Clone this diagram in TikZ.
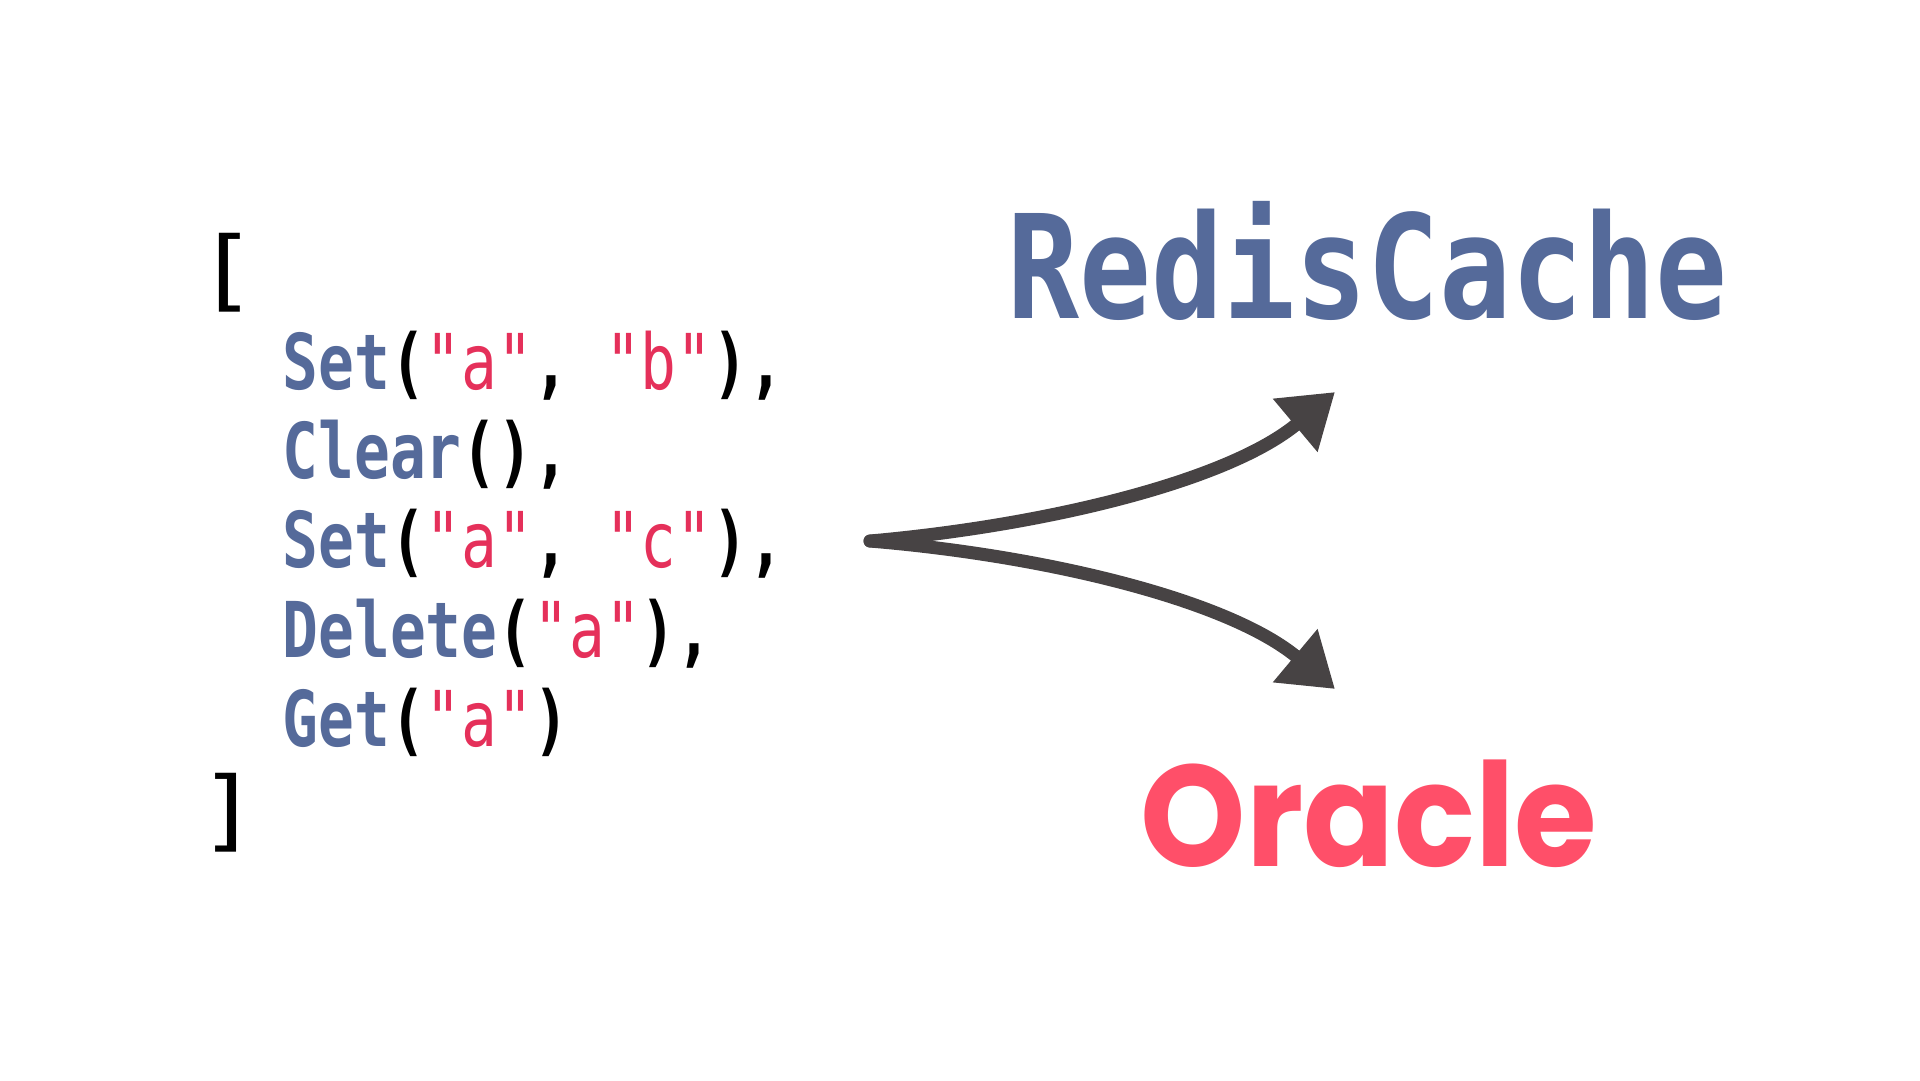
\documentclass[tikz,border=0pt]{standalone}
\usepackage{fontspec}
\usetikzlibrary{arrows.meta}

\newfontfamily\codefont[FakeStretch=0.773]{DejaVu Sans Mono}
\newfontfamily\titlefont[FakeStretch=0.83]{DejaVu Sans Mono}
\newfontfamily\oraclefont[FakeStretch=0.93]{Poppins}

\definecolor{fncol}{HTML}{556A9A}
\definecolor{strcol}{HTML}{E5305A}
\definecolor{oraclecol}{HTML}{FF4F69}
\definecolor{chalk}{HTML}{474344}

\newcommand{\fname}[1]{\textcolor{fncol}{#1}}
\newcommand{\sval}[1]{\textcolor{strcol}{\mdseries #1}}
\newcommand{\tallbr}[1]{\scalebox{1.7}[1.15]{\mdseries #1}}

\tikzset{
  codeline/.style={anchor=base west, inner sep=0pt, font=\codefont\bfseries\fontsize{21.9}{26}\selectfont},
  bracket/.style={codeline, anchor=base},
  chalkarrow/.style={draw=chalk, line width=1.3mm, line cap=round, -{Triangle[length=5.2mm, width=6.6mm]}}
}

\begin{document}
\begin{tikzpicture}[x=0.1mm, y=-0.1mm]
  \useasboundingbox (0,0) rectangle (1920,1080);

  % Liste der Befehle
  \node[bracket] (open) at (227,300) {\tallbr{[}};
  \node[codeline] (cmdA) at (282,389) {\fname{Set}(\sval{"a"}, \sval{"b"}),};
  \node[codeline] (cmdB) at (282,478) {\fname{Clear}(),};
  \node[codeline] (cmdC) at (282,567) {\fname{Set}(\sval{"a"}, \sval{"c"}),};
  \node[codeline] (cmdD) at (282,657) {\fname{Delete}(\sval{"a"}),};
  \node[codeline] (cmdE) at (282,746) {\fname{Get}(\sval{"a"})};
  \node[bracket] (close) at (229,840) {\tallbr{]}};

  % Ziele
  \node[anchor=base west, inner sep=0pt, text=fncol, font=\titlefont\bfseries\fontsize{41}{48}\selectfont] (redis) at (1007,318) {RedisCache};
  \node[anchor=base west, inner sep=0pt, text=oraclecol, font=\oraclefont\bfseries\fontsize{41}{48}\selectfont] (oracle) at (1140,866) {Oracle};

  % Verzweigung
  \coordinate (fork) at (870,541);
  \coordinate (redisEnd) at (1335,392);
  \coordinate (oracleEnd) at (1335,689);
  \draw[chalkarrow] (fork) .. controls (1050,525) and (1230,480) .. (redisEnd);
  \draw[chalkarrow] (fork) .. controls (1050,556) and (1230,601) .. (oracleEnd);
\end{tikzpicture}
\end{document}
